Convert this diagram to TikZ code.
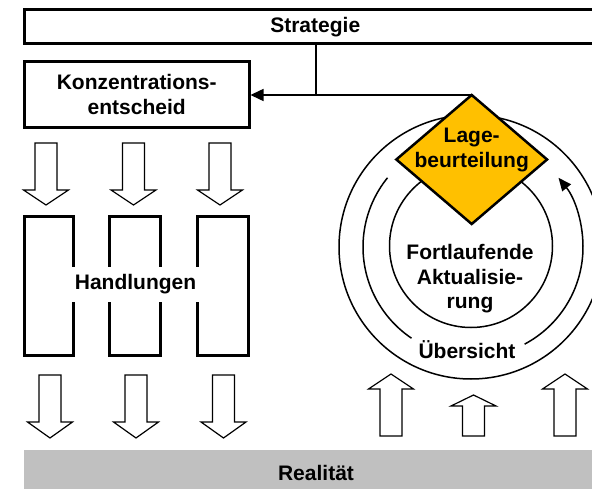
\documentclass[tikz,border=0pt]{standalone}
\usepackage{fontspec}
\setmainfont{Liberation Sans}
\usetikzlibrary{shapes.geometric,arrows.meta}
\definecolor{lagegold}{RGB}{255,192,0}
\definecolor{realgrey}{RGB}{192,192,192}
\newcommand\blockarrow[4]{%
  \draw[blockarr] (#1-11,#2) -- (#1+11,#2) -- (#1+11,#3) -- (#1+22.5,#3) -- (#1,#4)
    -- (#1-22.5,#3) -- (#1-11,#3) -- cycle;}
\begin{document}
\begin{tikzpicture}[x=1pt,y=-1pt,
  txt/.style={font=\fontsize{21}{24.5}\selectfont\bfseries, align=center, inner sep=0},
  thickbox/.style={draw, line width=3pt, rectangle, inner sep=0},
  ring/.style={line width=1.5pt},
  blockarr/.style={draw, line width=1.2pt, fill=white, line join=miter},
  conn/.style={line width=1.5pt},
]
\useasboundingbox (0,0) rectangle (592,489);
\clip (0,0) rectangle (592,489);

% top boxes
\node[thickbox, txt, minimum width=581.5, minimum height=33.5] (strat) at (315.25,26.75) {Strategie};
\node[thickbox, txt, minimum width=224.5, minimum height=66] (konz) at (136.75,94.5) {Konzentrations-\\entscheid};

% rings
\coordinate (oc) at (471,247);
\coordinate (ic) at (471,246);
\coordinate (mc) at (473,247);
\draw[ring] (oc) circle[radius=132];
\draw[ring] (ic) circle[radius=81.5];
\draw[ring] (mc) ++(219:110) arc[start angle=219, end angle=124, radius=110];
\draw[ring, -{Triangle[length=13,width=11]}] (mc) ++(62:110) arc[start angle=62, end angle=-39, radius=110];

% diamond
\node[diamond, draw, line width=2.5pt, fill=lagegold, minimum width=150.7, minimum height=129,
      inner sep=0, outer sep=0] (lage) at (471.7,159.5) {};
\node[txt] (lagetxt) at (471.7,150) {Lage-\\beurteilung};
\node[txt] (fort) at (470,279) {Fortlaufende\\Aktualisie-\\rung};
\node[txt] (ueber) at (467,350) {Übersicht};

% connectors
\coordinate (j) at (316,95);
\draw[conn, -{Triangle[length=13,width=12]}] (lage.north) -- (konz.east |- lage.north);
\draw[conn] (strat.south -| j) -- (j);

% Handlungen
\node[thickbox, minimum width=49, minimum height=138] (h1) at (48.5,286) {};
\node[thickbox, minimum width=51, minimum height=138] (h2) at (135,286) {};
\node[thickbox, minimum width=50.5, minimum height=138] (h3) at (222.75,286) {};
\node[txt, fill=white, minimum width=130, minimum height=35] (hand) at (135.5,284.5) {Handlungen};

% block arrows
\blockarrow{46}{143}{190}{205}
\blockarrow{133.5}{143}{190}{205}
\blockarrow{220}{143}{190}{205}
\blockarrow{50}{375}{422}{438}
\blockarrow{136}{375}{422}{438}
\blockarrow{223.5}{375}{422}{438}
\blockarrow{391}{436}{389}{374}
\blockarrow{473.5}{436}{406}{395}
\blockarrow{565}{436}{389}{374}

% reality bar
\node[txt, fill=realgrey, minimum width=584, minimum height=46] (real) at (316,473) {Realität};
\end{tikzpicture}
\end{document}
